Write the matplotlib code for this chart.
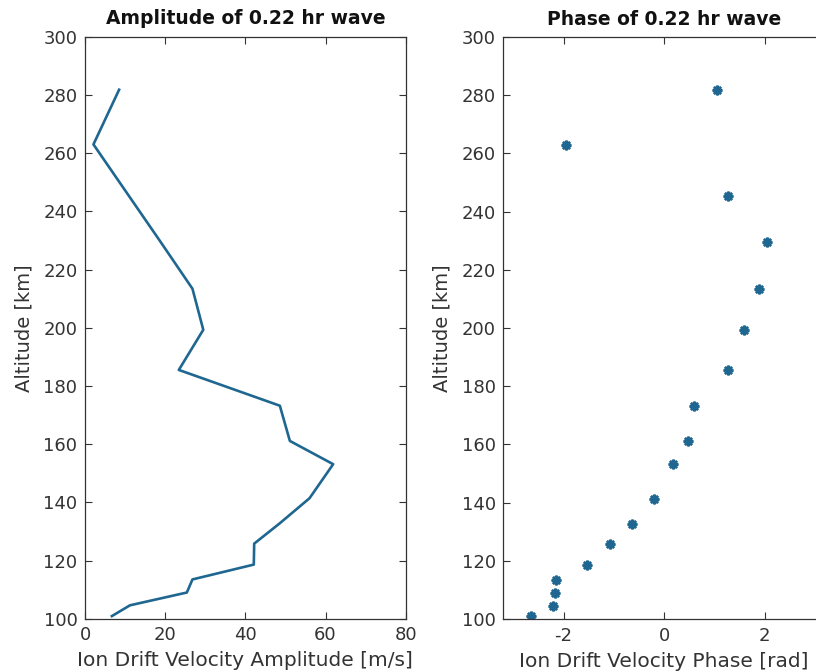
import matplotlib
matplotlib.use("Agg")
import matplotlib.pyplot as plt

# altitudes of the range gates [km]
altitude = [100.9, 104.6, 109.0, 113.5, 118.6, 125.8, 132.7, 141.4, 153.1,
            161.1, 173.2, 185.5, 199.3, 213.4, 229.6, 245.4, 263.0, 281.8]

# ion drift velocity amplitude [m/s]
amplitude = [6.7, 11.2, 25.4, 26.8, 42.1, 42.2, 48.5, 56.0, 61.9,
             51.1, 48.6, 23.4, 29.5, 26.8, 18.8, 10.9, 2.1, 8.5]

# ion drift velocity phase [rad]
phase = [-2.65, -2.21, -2.18, -2.15, -1.54, -1.08, -0.64, -0.20, 0.18,
         0.47, 0.59, 1.27, 1.59, 1.89, 2.05, 1.27, -1.95, 1.06]

amp_ticks = [0, 20, 40, 60, 80]
phase_ticks = [-2, 0, 2]
alt_ticks = [100, 120, 140, 160, 180, 200, 220, 240, 260, 280, 300]

blue = "#1f6790"
dark = "#333333"

plt.rcParams['font.family'] = ['DejaVu Sans']
plt.rcParams['axes.unicode_minus'] = False

fig = plt.figure(figsize=(8.16, 6.72), dpi=100)
ax1 = fig.add_axes([0.1042, 0.0793, 0.393, 0.866])
ax2 = fig.add_axes([0.6168, 0.0789, 0.394, 0.866])

ax1.plot(amplitude, altitude, color=blue, lw=1.9)
ax1.set_xlim(0, 80)
ax1.set_xticks(amp_ticks)
ax1.set_title("Amplitude of 0.22 hr wave", fontweight="bold", fontsize=13.5,
              pad=9, color="#111111")
ax1.set_xlabel("Ion Drift Velocity Amplitude [m/s]", fontsize=14.5, labelpad=5)

ax2.plot(phase, altitude, ls="none", marker=(8, 2, 0), ms=7, mew=1.8,
         color=blue)
ax2.set_xlim(-3.2, 3.2)
ax2.set_xticks(phase_ticks)
ax2.set_title("Phase of 0.22 hr wave", fontweight="bold", fontsize=13.5,
              pad=9, color="#111111")
ax2.set_xlabel("Ion Drift Velocity Phase [rad]", fontsize=14.5, labelpad=5)

for ax in (ax1, ax2):
    ax.set_ylim(100, 300)
    ax.set_yticks(alt_ticks)
    ax.set_ylabel("Altitude [km]", fontsize=14, color=dark, labelpad=7)
    ax.xaxis.label.set_color(dark)
    ax.tick_params(direction="in", top=True, right=True, length=5,
                   width=0.8, labelsize=13, colors=dark, pad=5.5)
    for s in ax.spines.values():
        s.set_color(dark)
        s.set_linewidth(0.9)

fig.savefig("out.png", dpi=100)
